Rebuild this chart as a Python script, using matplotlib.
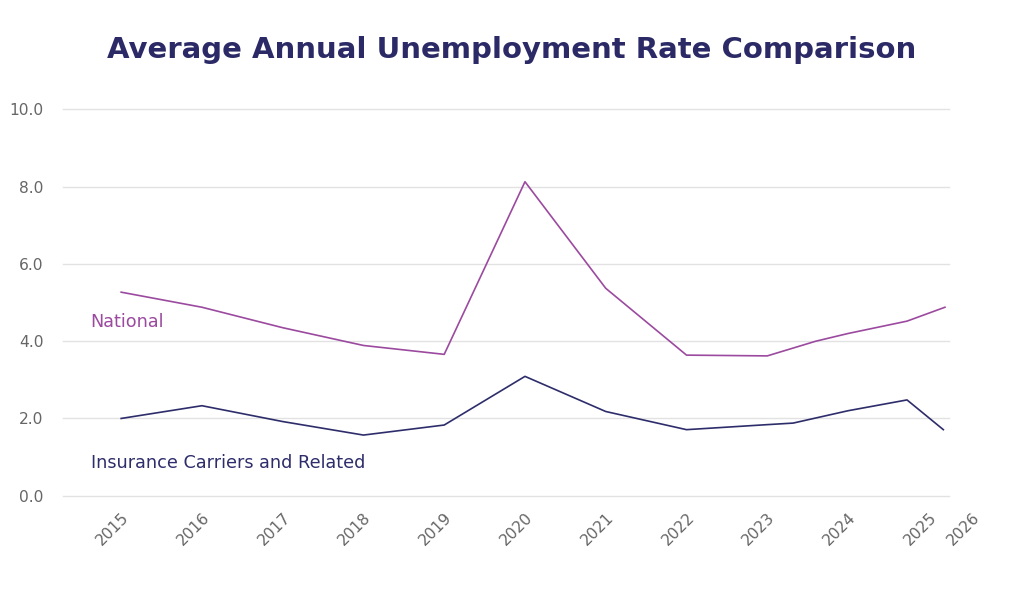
import matplotlib
matplotlib.use("Agg")
import matplotlib.pyplot as plt
import matplotlib.transforms as mtransforms

plt.rcParams["font.family"] = ["DejaVu Sans"]

# Data (x as fractional years)
national_x = [2015, 2016, 2017, 2018, 2019, 2020, 2021, 2022, 2023, 2023.6, 2024.0, 2024.73, 2025.2]
national_y = [5.27, 4.88, 4.35, 3.89, 3.66, 8.13, 5.37, 3.64, 3.62, 4.00, 4.20, 4.52, 4.88]
insurance_x = [2015, 2016, 2017, 2018, 2019, 2020, 2021, 2022, 2023, 2023.32, 2024.0, 2024.73, 2025.18]
insurance_y = [2.00, 2.33, 1.92, 1.57, 1.83, 3.09, 2.18, 1.71, 1.84, 1.88, 2.20, 2.48, 1.71]
year_ticks = [2015, 2016, 2017, 2018, 2019, 2020, 2021, 2022, 2023, 2024, 2025]
extra_tick_label = "2026"
y_ticks = [0, 2, 4, 6, 8, 10]

title = "Average Annual Unemployment Rate Comparison"
national_color = "#9b4a9f"
insurance_color = "#2e2d6b"
title_color = "#2b2a66"

fig = plt.figure(figsize=(10.24, 6.07), dpi=100)
ax = fig.add_axes([63/1024, 1-495.7/607, (949-63)/1024, (495.7-109.5)/607])

ax.plot(national_x, national_y, color=national_color, lw=1.2)
ax.plot(insurance_x, insurance_y, color=insurance_color, lw=1.2)

ax.set_xlim(2014.28, 2025.25)
ax.set_ylim(0, 10)
ax.set_yticks(y_ticks)
ax.set_yticklabels([f"{v:.1f}" for v in y_ticks])
ax.set_xticks(year_ticks)
ax.set_xticklabels([str(y) for y in year_ticks], rotation=45, ha="right", rotation_mode="anchor")
ax.tick_params(axis="both", length=0, labelsize=11.2, labelcolor="#666666")
ax.tick_params(axis="y", pad=14)
ax.tick_params(axis="x", pad=10)
ax.grid(axis="y", color="#e2e2e2", lw=1)
for gl in ax.get_ygridlines():
    gl.set_clip_on(False)
ax.set_axisbelow(True)
for s in ax.spines.values():
    s.set_visible(False)

trans = mtransforms.blended_transform_factory(ax.transData, ax.transAxes)
ax.text(2025.53, 0, extra_tick_label, transform=trans + mtransforms.ScaledTranslation(0, -10/72, fig.dpi_scale_trans),
        rotation=45, ha="right", va="top", rotation_mode="anchor", fontsize=11.2, color="#666666", clip_on=False)

ax.text(90/1024, 1-322/607, "National", transform=fig.transFigure, color=national_color,
        fontsize=12.7, va="center", ha="left")
ax.text(91/1024, 1-463/607, "Insurance Carriers and Related", transform=fig.transFigure,
        color=insurance_color, fontsize=12.7, va="center", ha="left")

fig.text(0.5, 1-50/607, title, ha="center", va="center", fontsize=21, fontweight="bold", color=title_color)

fig.savefig("out.png", dpi=100, facecolor="white")
